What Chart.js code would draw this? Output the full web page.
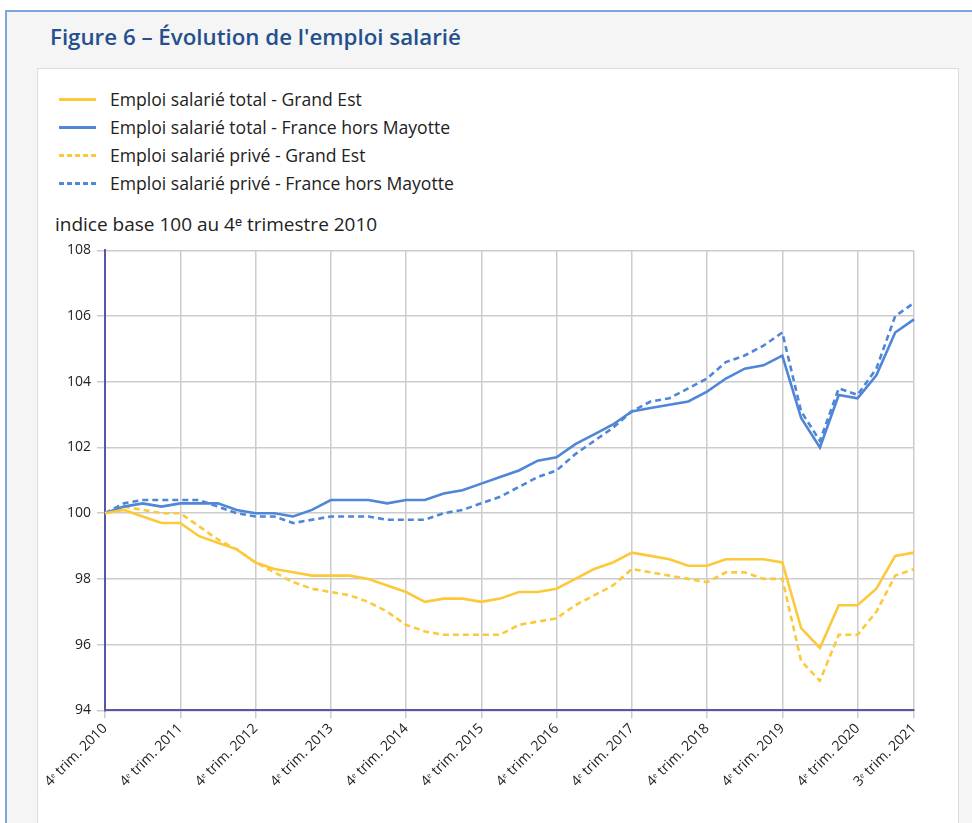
<!DOCTYPE html>
<html lang="fr">
<head>
<meta charset="utf-8">
<script src="https://cdn.jsdelivr.net/npm/chart.js@4.4.1/dist/chart.umd.min.js"></script>
<style>
  html, body { margin: 0; padding: 0; background: #fff; }
  body { width: 972px; height: 823px; overflow: hidden; position: relative; font-family: 'Open Sans', sans-serif; }
  #frame { position: absolute; left: 5px; top: 10px; width: 967px; height: 813px; background: #f5f5f5; border-left: 2px solid #7aa7e0; border-top: 2px solid #7aa7e0; }
  #title { position: absolute; left: 50px; top: 21px; font-size: 22.3px; font-weight: 600; color: #24508d; white-space: nowrap; }
  #panel { position: absolute; left: 37px; top: 68px; width: 920px; height: 770px; background: #fff; border: 1px solid #dedede; }
  #legend { position: absolute; left: 59px; top: 85px; }
  .item { height: 28px; display: flex; align-items: center; font-size: 17.6px; color: #222; }
  .swatch { width: 37px; height: 3px; margin-right: 14px; }
  #ytitle { position: absolute; left: 55px; top: 211px; font-size: 19px; color: #222; white-space: nowrap; }
  #chart { position: absolute; left: 37px; top: 236px; }
</style>
</head>
<body>
<div id="frame"></div>
<div id="title">Figure 6 – Évolution de l'emploi salarié</div>
<div id="panel"></div>
<div id="legend"></div>
<div id="ytitle">indice base 100 au 4ᵉ trimestre 2010</div>
<canvas id="chart" width="935" height="587"></canvas>
<script>
// trimestres, du 4e trim. 2010 au 3e trim. 2021
const quarters = [
  '4ᵉ trim. 2010',
  '1ᵉʳ trim. 2011', '2ᵉ trim. 2011', '3ᵉ trim. 2011', '4ᵉ trim. 2011',
  '1ᵉʳ trim. 2012', '2ᵉ trim. 2012', '3ᵉ trim. 2012', '4ᵉ trim. 2012',
  '1ᵉʳ trim. 2013', '2ᵉ trim. 2013', '3ᵉ trim. 2013', '4ᵉ trim. 2013',
  '1ᵉʳ trim. 2014', '2ᵉ trim. 2014', '3ᵉ trim. 2014', '4ᵉ trim. 2014',
  '1ᵉʳ trim. 2015', '2ᵉ trim. 2015', '3ᵉ trim. 2015', '4ᵉ trim. 2015',
  '1ᵉʳ trim. 2016', '2ᵉ trim. 2016', '3ᵉ trim. 2016', '4ᵉ trim. 2016',
  '1ᵉʳ trim. 2017', '2ᵉ trim. 2017', '3ᵉ trim. 2017', '4ᵉ trim. 2017',
  '1ᵉʳ trim. 2018', '2ᵉ trim. 2018', '3ᵉ trim. 2018', '4ᵉ trim. 2018',
  '1ᵉʳ trim. 2019', '2ᵉ trim. 2019', '3ᵉ trim. 2019', '4ᵉ trim. 2019',
  '1ᵉʳ trim. 2020', '2ᵉ trim. 2020', '3ᵉ trim. 2020', '4ᵉ trim. 2020',
  '1ᵉʳ trim. 2021', '2ᵉ trim. 2021', '3ᵉ trim. 2021'
];

// quarters that get a tick label (and a vertical grid line)
const tickQuarters = [
  '4ᵉ trim. 2010', '4ᵉ trim. 2011', '4ᵉ trim. 2012', '4ᵉ trim. 2013',
  '4ᵉ trim. 2014', '4ᵉ trim. 2015', '4ᵉ trim. 2016', '4ᵉ trim. 2017',
  '4ᵉ trim. 2018', '4ᵉ trim. 2019', '4ᵉ trim. 2020', '3ᵉ trim. 2021'
];

const totalGrandEst = [
  100, 100.1, 99.9, 99.7, 99.7, 99.3, 99.1, 98.9, 98.5, 98.3,
  98.2, 98.1, 98.1, 98.1, 98.0, 97.8, 97.6, 97.3, 97.4, 97.4,
  97.3, 97.4, 97.6, 97.6, 97.7, 98.0, 98.3, 98.5, 98.8, 98.7,
  98.6, 98.4, 98.4, 98.6, 98.6, 98.6, 98.5, 96.5, 95.9, 97.2,
  97.2, 97.7, 98.7, 98.8
];
const totalFrance = [
  100, 100.2, 100.3, 100.2, 100.3, 100.3, 100.3, 100.1, 100.0, 100.0,
  99.9, 100.1, 100.4, 100.4, 100.4, 100.3, 100.4, 100.4, 100.6, 100.7,
  100.9, 101.1, 101.3, 101.6, 101.7, 102.1, 102.4, 102.7, 103.1, 103.2,
  103.3, 103.4, 103.7, 104.1, 104.4, 104.5, 104.8, 102.9, 102.0, 103.6,
  103.5, 104.2, 105.5, 105.9
];
const priveGrandEst = [
  100, 100.2, 100.1, 100.0, 100.0, 99.6, 99.2, 98.9, 98.5, 98.2,
  97.9, 97.7, 97.6, 97.5, 97.3, 97.0, 96.6, 96.4, 96.3, 96.3,
  96.3, 96.3, 96.6, 96.7, 96.8, 97.2, 97.5, 97.8, 98.3, 98.2,
  98.1, 98.0, 97.9, 98.2, 98.2, 98.0, 98.0, 95.5, 94.9, 96.3,
  96.3, 97.0, 98.1, 98.3
];
const priveFrance = [
  100, 100.3, 100.4, 100.4, 100.4, 100.4, 100.2, 100.0, 99.9, 99.9,
  99.7, 99.8, 99.9, 99.9, 99.9, 99.8, 99.8, 99.8, 100.0, 100.1,
  100.3, 100.5, 100.8, 101.1, 101.3, 101.8, 102.2, 102.6, 103.1, 103.4,
  103.5, 103.8, 104.1, 104.6, 104.8, 105.1, 105.5, 103.1, 102.2, 103.8,
  103.6, 104.4, 106.0, 106.4
];

const yellow = '#fcc93a';
const blue = '#4f86d8';
const dash = [6, 4];

const series = [
  { label: 'Emploi salarié total - Grand Est', data: totalGrandEst, color: yellow, dashed: false },
  { label: 'Emploi salarié total - France hors Mayotte', data: totalFrance, color: blue, dashed: false },
  { label: 'Emploi salarié privé - Grand Est', data: priveGrandEst, color: yellow, dashed: true },
  { label: 'Emploi salarié privé - France hors Mayotte', data: priveFrance, color: blue, dashed: true }
];

// html legend
const legendEl = document.getElementById('legend');
series.forEach(s => {
  const row = document.createElement('div');
  row.className = 'item';
  const bg = s.dashed
    ? `repeating-linear-gradient(to right, ${s.color} 0 5px, transparent 5px 8px)`
    : s.color;
  row.innerHTML = `<span class="swatch" style="background:${bg}"></span><span>${s.label}</span>`;
  legendEl.appendChild(row);
});

const ctx = document.getElementById('chart').getContext('2d');
new Chart(ctx, {
  type: 'line',
  data: {
    labels: quarters,
    datasets: series.map(s => ({
      label: s.label,
      data: s.data,
      borderColor: s.color,
      backgroundColor: s.color,
      borderWidth: 2.6,
      borderDash: s.dashed ? dash : [],
      pointRadius: 0,
      tension: 0,
      fill: false
    }))
  },
  options: {
    responsive: false,
    animation: false,
    devicePixelRatio: 1,
    layout: { padding: { left: 24, right: 58, top: 6, bottom: 31 } },
    plugins: {
      legend: { display: false },
      tooltip: { enabled: false }
    },
    scales: {
      x: {
        afterFit: (scale) => { scale.paddingLeft = 0; },
        grid: { color: '#cccccc', lineWidth: 1.5, tickLength: 8 },
        border: { color: '#5558a8', width: 2 },
        ticks: {
          autoSkip: false,
          maxRotation: 45,
          minRotation: 45,
          padding: 2,
          color: '#222',
          font: { family: 'Open Sans', size: 14 },
          callback: function (value, index) {
            const lab = quarters[index];
            return tickQuarters.includes(lab) ? lab : null;
          }
        }
      },
      y: {
        min: 94,
        max: 108,
        grid: { color: '#cccccc', lineWidth: 1.5, tickLength: 8 },
        border: { color: '#5558a8', width: 2 },
        ticks: {
          stepSize: 2,
          padding: 6,
          color: '#222',
          font: { family: 'Open Sans', size: 14 }
        }
      }
    }
  }
});
</script>
</body>
</html>
